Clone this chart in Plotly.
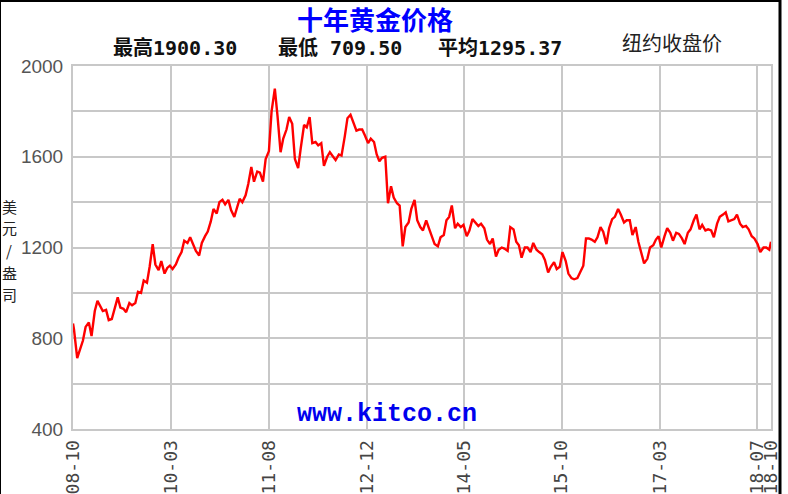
import pandas as pd
import plotly.graph_objects as go

# ---- data (semi-monthly readings of New York close, USD/oz) ----
p2008 = [865, 840, 712, 745, 790, 850]
p2009 = [870, 810, 920, 965, 940, 920, 925, 880, 885, 925, 980, 935,
         930, 915, 955, 945, 955, 1005, 1000, 1055, 1045, 1115, 1215, 1125]
p2010 = [1100, 1140, 1085, 1110, 1120, 1105, 1125, 1155, 1180, 1230, 1220, 1245,
         1210, 1185, 1165, 1220, 1250, 1270, 1315, 1370, 1350, 1400, 1410, 1390]
p2011 = [1410, 1365, 1335, 1370, 1415, 1400, 1430, 1480, 1555, 1490, 1535, 1530,
         1490, 1590, 1625, 1800, 1900, 1780, 1620, 1680, 1720, 1775, 1745, 1590]
p2012 = [1550, 1640, 1740, 1730, 1775, 1660, 1665, 1650, 1660, 1560, 1600, 1620,
         1600, 1585, 1610, 1605, 1690, 1770, 1785, 1755, 1715, 1720, 1720, 1695]
p2013 = [1660, 1680, 1665, 1610, 1580, 1595, 1600, 1395, 1470, 1420, 1395, 1385,
         1205, 1290, 1310, 1370, 1410, 1320, 1290, 1275, 1320, 1285, 1245, 1215]
p2014 = [1205, 1245, 1255, 1320, 1335, 1385, 1285, 1305, 1290, 1300, 1250, 1275,
         1325, 1310, 1295, 1305, 1285, 1235, 1215, 1240, 1160, 1190, 1200, 1195]
p2015 = [1185, 1290, 1280, 1225, 1210, 1155, 1200, 1200, 1180, 1220, 1190, 1180,
         1170, 1145, 1090, 1115, 1135, 1105, 1115, 1180, 1140, 1085, 1065, 1060]
p2016 = [1065, 1090, 1120, 1240, 1240, 1235, 1225, 1245, 1290, 1270, 1215, 1285,
         1325, 1335, 1370, 1345, 1310, 1320, 1320, 1255, 1290, 1225, 1170, 1130]
p2017 = [1150, 1200, 1210, 1235, 1250, 1200, 1250, 1285, 1265, 1230, 1265, 1260,
         1240, 1215, 1265, 1280, 1320, 1345, 1280, 1300, 1275, 1280, 1275, 1245]
p2018 = [1305, 1335, 1345, 1355, 1315, 1320, 1325, 1345, 1305, 1290, 1295, 1280,
         1250, 1240, 1215, 1180, 1200, 1200, 1190, 1225]

prices = p2008 + p2009 + p2010 + p2011 + p2012 + p2013 + p2014 + p2015 + p2016 + p2017 + p2018
dates = (["2008-10-10"]
         + [d.strftime("%Y-%m-%d") for d in pd.date_range("2008-10-15", "2018-10-01", freq="SMS")]
         + ["2018-10-10"])
n = min(len(dates), len(prices))
dates, prices = dates[:n], prices[:n]

x_tick_vals = ["2008-10-10", "2010-03-06", "2011-08-02", "2012-12-26", "2014-05-17",
               "2015-10-10", "2017-03-08", "2018-07-31", "2018-10-10"]
x_tick_text = ["08-10", "10-03", "11-08", "12-12", "14-05", "15-10", "17-03", "18-07", "18-10"]
y_tick_vals = [400, 600, 800, 1000, 1200, 1400, 1600, 1800, 2000]
y_tick_text = ["400", "", "800", "", "1200", "", "1600", "", "2000"]

title_text = "十年黄金价格"
stats = ["最高1900.30", "最低 709.50", "平均1295.37"]
note_text = "纽约收盘价"
y_title = "美元/盎司"
watermark = "www.kitco.cn"

GRID = "#c8c8c8"
W, H = 788, 494
ML, MR, MT, MB = 73, 17, 66, 65

fig = go.Figure()
fig.add_trace(go.Scatter(x=dates, y=prices, mode="lines",
                         line=dict(color="#ff0000", width=2.4), hoverinfo="skip",
                         showlegend=False))

fig.update_layout(
    width=W, height=H,
    margin=dict(l=ML, r=MR, t=MT, b=MB, autoexpand=False),
    paper_bgcolor="white", plot_bgcolor="white",
    xaxis=dict(range=["2008-10-10", "2018-10-10"], tickmode="array",
               tickvals=x_tick_vals, ticktext=x_tick_text, tickangle=-90,
               showgrid=True, gridcolor=GRID, gridwidth=2,
               showline=True, linecolor=GRID, linewidth=2, mirror=True,
               ticks="", zeroline=False, automargin=False, ticklabelstandoff=2,
               tickfont=dict(family="DejaVu Sans Mono", size=18, color="#444444")),
    yaxis=dict(range=[400, 2000], tickmode="array",
               tickvals=y_tick_vals, ticktext=y_tick_text,
               showgrid=True, gridcolor=GRID, gridwidth=2,
               showline=True, linecolor=GRID, linewidth=2, mirror=True,
               ticks="", zeroline=False, ticklabelstandoff=4, automargin=False,
               tickfont=dict(family="Liberation Sans", size=19, color="#555555")),
)


def px(x):
    return (x - ML) / (W - ML - MR)


def py(y):
    return (H - MB - y) / (H - MT - MB)


annotations = [
    dict(text="<b>" + title_text + "</b>", x=px(375), y=py(18), xref="paper", yref="paper",
         showarrow=False, xanchor="center", yanchor="middle", borderpad=0,
         font=dict(family="Noto Sans CJK SC", size=26, color="#0000ff")),
    dict(text=note_text, x=px(620), y=py(43), xref="paper", yref="paper",
         showarrow=False, xanchor="left", yanchor="middle",
         font=dict(family="Noto Sans CJK SC", size=20, color="#222222")),
    dict(text="<b>" + watermark + "</b>", x=px(387), y=py(414), xref="paper", yref="paper",
         showarrow=False, xanchor="center", yanchor="middle",
         font=dict(family="Liberation Mono", size=25, color="#0000ee")),
]
for s, x0 in zip(stats, [112, 277, 437]):
    annotations.append(dict(text="<b>" + s + "</b>", x=px(x0), y=py(48), xref="paper", yref="paper",
                            showarrow=False, xanchor="left", yanchor="middle", borderpad=0,
                            font=dict(family="DejaVu Sans Mono, Noto Sans CJK SC", size=20,
                                      color="#111111")))
# vertical axis title, one glyph per row
for i, ch in enumerate(y_title):
    annotations.append(dict(text=ch, x=px(9), y=py(206 + i * 22), xref="paper", yref="paper",
                            showarrow=False, xanchor="center", yanchor="middle", borderpad=0,
                            font=dict(family="Noto Sans CJK SC", size=15, color="#222222")))
fig.update_layout(annotations=annotations)

# outer frame (top, left, right black rules)
shapes = [
    dict(type="line", xref="paper", yref="paper", x0=px(0), x1=px(781), y0=py(1), y1=py(1),
         line=dict(color="black", width=2)),
    dict(type="line", xref="paper", yref="paper", x0=px(780), x1=px(780), y0=py(0), y1=py(494),
         line=dict(color="black", width=3)),
    dict(type="line", xref="paper", yref="paper", x0=px(0.5), x1=px(0.5), y0=py(0), y1=py(494),
         line=dict(color="black", width=1)),
]
fig.update_layout(shapes=shapes)

fig.write_html("out.html", config={"displayModeBar": False},
               post_script="document.body.style.margin='0px';document.body.style.overflow='hidden';")
